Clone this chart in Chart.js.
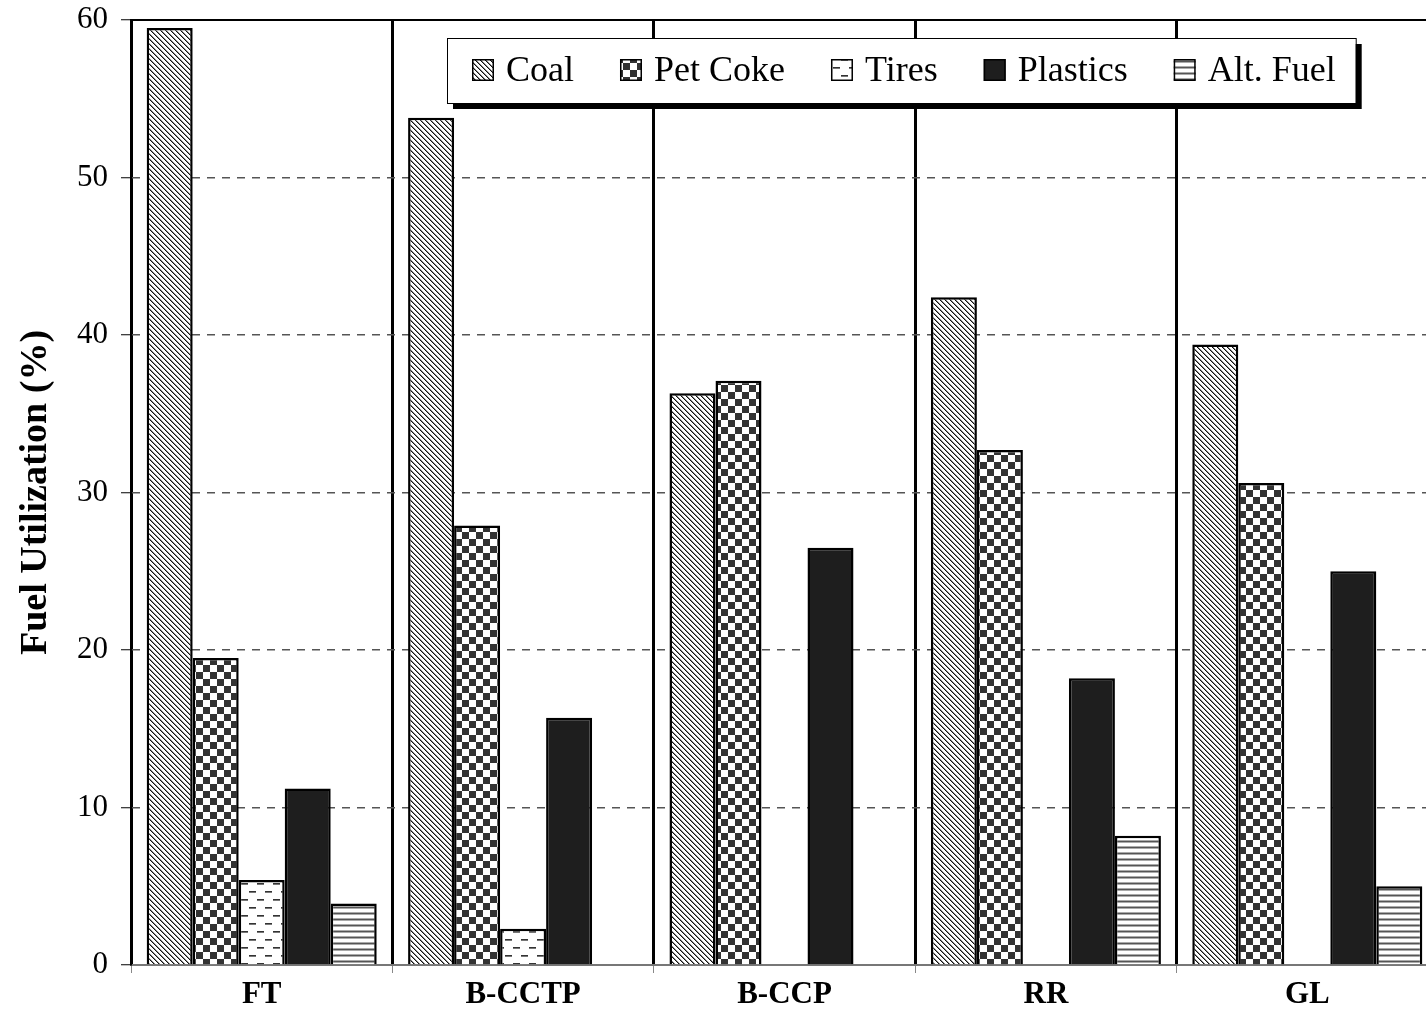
<!DOCTYPE html>
<html>
<head>
<meta charset="utf-8">
<script src="https://cdn.jsdelivr.net/npm/chart.js@4/dist/chart.umd.min.js"></script>
<style>
  html, body { margin: 0; padding: 0; overflow: hidden; background: #fff; }
  canvas { display: block; }
</style>
</head>
<body>
<canvas id="c" width="1438" height="1013"></canvas>
<script>
// Fuel utilization (%) by plant
const categories = ['FT', 'B-CCTP', 'B-CCP', 'RR', 'GL'];
const seriesNames = ['Coal', 'Pet Coke', 'Tires', 'Plastics', 'Alt. Fuel'];
const coal     = [59.5, 53.8, 36.3, 42.4, 39.4];
const petCoke  = [19.5, 27.9, 37.1, 32.7, 30.6];
const tires    = [5.4, 2.3, 0, 0, 0];
const plastics = [11.2, 15.7, 26.5, 18.2, 25.0];
const altFuel  = [3.9, 0, 0, 8.2, 5.0];
const yTicks   = [0, 10, 20, 30, 40, 50, 60];
const yTitle   = 'Fuel Utilization (%)';

const canvas = document.getElementById('c');
const ctx = canvas.getContext('2d');

// Build a repeating fill from a small pixel tile
function pixelPattern(w, h, colorAt) {
  const t = document.createElement('canvas');
  t.width = w; t.height = h;
  const g = t.getContext('2d');
  g.fillStyle = '#fff';
  g.fillRect(0, 0, w, h);
  for (let y = 0; y < h; y++) {
    for (let x = 0; x < w; x++) {
      const col = colorAt(x, y);
      if (col) { g.fillStyle = col; g.fillRect(x, y, 1, 1); }
    }
  }
  return ctx.createPattern(t, 'repeat');
}

const fills = [
  // Coal: fine diagonal hatching
  pixelPattern(5, 5, (x, y) => {
    const k = ((x - y) % 5 + 5) % 5;
    return k === 0 ? '#111' : (k === 1 ? '#888' : null);
  }),
  // Pet Coke: checkerboard
  pixelPattern(14, 14, (x, y) => ((x < 7) === (y < 7)) ? '#333' : null),
  // Tires: staggered short dashes
  pixelPattern(16, 16, (x, y) => {
    if ((y === 3 || y === 4) && x >= 1 && x <= 7) return y === 3 ? '#333' : '#777';
    if ((y === 11 || y === 12) && x >= 9 && x <= 15) return y === 11 ? '#333' : '#777';
    return null;
  }),
  // Plastics: solid
  '#1e1e1e',
  // Alt. Fuel: horizontal stripes
  pixelPattern(1, 6, (x, y) => (y === 0 ? '#aaa' : (y === 1 ? '#555' : (y === 2 ? '#aaa' : null))))
];

const seriesValues = [coal, petCoke, tires, plastics, altFuel];

const datasets = seriesNames.map((name, i) => ({
  label: name,
  data: seriesValues[i],
  backgroundColor: fills[i],
  borderColor: '#000',
  borderWidth: 2.5
}));

const serif = '"Liberation Serif", "Times New Roman", serif';

// Top frame line and the boxed legend with drop shadow
const framePlugin = {
  id: 'frameAndLegend',
  afterDatasetsDraw(chart) {
    const { ctx: c, chartArea: a } = chart;
    c.save();
    c.strokeStyle = '#000';
    c.lineWidth = 2;
    c.beginPath();
    c.moveTo(a.left, a.top);
    c.lineTo(a.right, a.top);
    c.stroke();

    // legend
    const fontSize = 36;
    c.font = fontSize + 'px ' + serif;
    const boxX = 447, boxY = 38, boxH = 65;
    const sw = 22, textOff = 34, gap = 46, padL = 25, padR = 20;
    let x = boxX + padL;
    const items = chart.data.datasets.map(ds => {
      const w = c.measureText(ds.label).width;
      const it = { x, ds, w };
      x += textOff + w + gap;
      return it;
    });
    const last = items[items.length - 1];
    const boxW = last.x + textOff + last.w + padR - boxX;

    c.fillStyle = '#000';
    c.fillRect(boxX + 6, boxY + 6, boxW, boxH);
    c.fillStyle = '#fff';
    c.fillRect(boxX, boxY, boxW, boxH);
    c.lineWidth = 1;
    c.strokeStyle = '#000';
    c.strokeRect(boxX + 0.5, boxY + 0.5, boxW, boxH);

    const cy = boxY + boxH / 2;
    items.forEach(it => {
      const sy = Math.round(cy - sw / 2) - 1;
      c.fillStyle = it.ds.backgroundColor;
      c.fillRect(it.x, sy, sw, sw);
      c.lineWidth = 1.5;
      c.strokeStyle = '#000';
      c.strokeRect(it.x + 0.75, sy + 0.75, sw - 1.5, sw - 1.5);
      c.fillStyle = '#000';
      c.textBaseline = 'middle';
      c.textAlign = 'left';
      c.fillText(it.ds.label, it.x + textOff, cy + 1);
    });
    c.restore();
  }
};

new Chart(canvas, {
  type: 'bar',
  data: { labels: categories, datasets },
  plugins: [framePlugin],
  options: {
    responsive: false,
    animation: false,
    devicePixelRatio: 1,
    layout: { padding: { top: 20, left: 0, right: 0, bottom: 0 } },
    datasets: { bar: { categoryPercentage: 0.88, barPercentage: 1.0 } },
    plugins: { legend: { display: false }, tooltip: { enabled: false } },
    scales: {
      x: {
        grid: {
          offset: true,
          color: '#000',
          lineWidth: 3,
          tickColor: '#888',
          tickWidth: 1,
          tickLength: 8
        },
        border: { color: '#777', width: 2 },
        ticks: {
          color: '#000',
          padding: 3,
          font: { family: serif, size: 31, weight: 'bold' }
        },
        afterFit(s) { s.height = 48; s.paddingLeft = 0; s.paddingRight = 0; }
      },
      y: {
        min: yTicks[0],
        max: yTicks[yTicks.length - 1],
        afterBuildTicks(s) { s.ticks = yTicks.map(v => ({ value: v })); },
        grid: {
          color: c => (c.tick && (c.tick.value === 0 || c.tick.value === 60)) ? 'rgba(0,0,0,0)' : '#555',
          lineWidth: 1.5,
          tickColor: '#000',
          tickWidth: 1,
          tickLength: 10,
          tickBorderDash: []
        },
        border: { color: '#000', width: 2, dash: [8, 7] },
        ticks: {
          color: '#000',
          padding: 13,
          font: { family: serif, size: 31 }
        },
        title: {
          display: true,
          text: yTitle,
          color: '#000',
          padding: { top: 13, bottom: 0 },
          font: { family: serif, size: 38, weight: 'bold' }
        },
        afterFit(s) { s.width = 131; s.paddingTop = 0; s.paddingBottom = 0; }
      }
    }
  }
});
</script>
</body>
</html>
